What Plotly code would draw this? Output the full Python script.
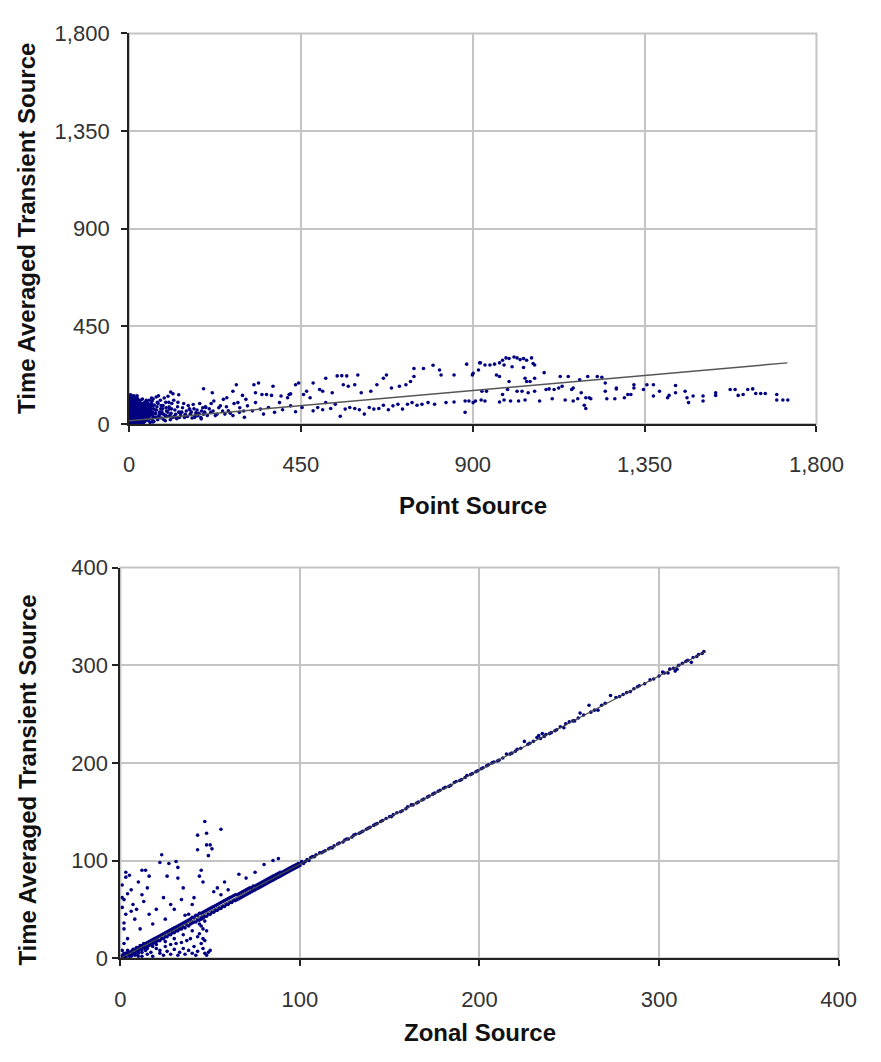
import plotly.graph_objects as go

# ---------------- data ----------------
point_ticks = [0, 450, 900, 1350, 1800]
zonal_ticks = [0, 100, 200, 300, 400]

# top panel: Point Source vs Time Averaged Transient Source
top_blob_pts = [
    (0, 5), (1, 12), (2, 25), (1, 40), (3, 55), (2, 70), (1, 85), (2, 100), (3, 115), (1, 128), (4, 135),
    (5, 8), (6, 20), (5, 35), (7, 48), (6, 62), (8, 78), (7, 92), (9, 105), (8, 118), (10, 3), (11, 15),
    (12, 30), (10, 44), (13, 58), (12, 72), (14, 88), (13, 100), (15, 112), (16, 6), (17, 18), (18, 26),
    (16, 38), (19, 52), (18, 65), (20, 80), (21, 95), (20, 108), (22, 10), (24, 22), (23, 34), (25, 46),
    (24, 60), (26, 74), (27, 88), (28, 100), (26, 2), (30, 14), (31, 28), (29, 40), (32, 56), (30, 68),
    (34, 82), (35, 95), (33, 8), (37, 20), (38, 33), (36, 50), (40, 64), (39, 76), (42, 90), (41, 12),
    (44, 25), (45, 40), (43, 55), (47, 70), (48, 85), (50, 18), (52, 30), (51, 48), (54, 62), (56, 78),
    (58, 95), (55, 8), (60, 22), (62, 40), (61, 55), (64, 70), (66, 88), (65, 12), (68, 30), (70, 48),
    (72, 65), (74, 100), (75, 20), (78, 38), (80, 55), (82, 110), (85, 28), (88, 70), (90, 45), (92, 120),
    (95, 15), (98, 60), (100, 35), (102, 128), (105, 80), (108, 20), (110, 50), (112, 95), (115, 140),
    (118, 35), (120, 65), (125, 25), (128, 100), (130, 55), (135, 40), (140, 75), (145, 30), (150, 60),
    (155, 85), (160, 45), (165, 28), (170, 70), (175, 52), (180, 38), (185, 95), (190, 60), (195, 45),
    (200, 80), (4, 2), (9, 60), (14, 45), (22, 118), (3, 98), (6, 110), (11, 122), (17, 85), (27, 60),
    (33, 70), (46, 100), (53, 110), (59, 120), (63, 115), (71, 125), (77, 130), (84, 85), (96, 100),
]
top_blob2_pts = [
    (0, 20), (0, 35), (0, 50), (0, 65), (0, 80), (0, 95), (0, 110), (0, 125), (1, 2), (2, 48), (3, 8),
    (3, 20), (3, 72), (4, 105), (5, 60), (6, 35), (7, 10), (7, 72), (8, 50), (9, 90), (10, 20), (10, 100),
    (12, 45), (13, 5), (13, 130), (15, 60), (17, 40), (18, 105), (20, 62), (22, 50), (23, 75), (24, 92),
    (25, 110), (27, 8), (28, 35), (30, 55), (32, 88), (34, 40), (35, 115), (36, 62), (38, 95), (40, 30),
    (42, 75), (44, 50), (45, 110), (48, 20), (48, 60), (50, 75), (52, 90), (54, 38), (57, 50), (60, 105),
    (63, 85), (2, 8), (4, 18), (3, 32), (5, 50), (4, 78), (6, 90), (5, 120), (7, 130), (8, 15), (9, 28),
    (10, 55), (11, 68), (12, 85), (11, 110), (9, 125), (14, 5), (15, 25), (14, 35), (16, 55), (15, 75),
    (17, 95), (16, 120), (19, 10), (20, 30), (21, 42), (19, 70), (22, 88), (23, 100), (21, 130),
    (25, 15), (26, 30), (27, 50), (28, 65), (26, 80), (29, 95), (30, 110), (32, 20), (33, 45), (34, 60),
    (31, 75), (35, 85), (37, 5), (38, 28), (39, 45), (40, 58), (38, 72), (41, 100), (43, 15), (44, 35),
    (46, 50), (45, 65), (47, 80), (49, 95), (50, 30), (53, 45), (55, 58), (57, 68), (59, 85), (62, 10),
    (63, 30), (67, 50), (69, 65), (73, 80), (76, 95), (79, 30), (81, 45), (83, 70), (86, 55), (89, 85),
    (91, 20), (94, 40), (97, 75), (101, 55), (104, 100), (107, 40), (111, 70), (114, 30), (117, 110),
    (122, 45), (127, 80), (132, 30), (138, 55), (143, 95), (147, 45), (153, 35), (158, 70), (163, 55),
    (168, 90), (173, 40), (178, 65), (183, 50), (188, 30), (193, 75), (198, 55), (205, 40), (210, 70),
    (215, 95), (220, 60), (230, 45), (235, 75), (245, 60), (255, 80), (265, 50), (275, 95), (290, 75),
    (300, 60),
]
top_upper_pts = [
    (109, 148), (130, 135), (195, 163), (218, 144), (247, 114), (272, 151), (281, 181), (297, 132),
    (327, 181), (331, 144), (339, 189), (377, 174), (373, 132), (419, 136), (436, 181), (444, 189),
    (482, 189), (499, 159), (515, 211), (545, 222), (557, 223), (570, 222), (599, 226), (561, 181),
    (574, 174), (591, 181), (608, 144), (633, 151), (649, 181), (666, 211), (674, 226), (687, 166),
    (708, 174), (725, 181), (737, 196), (746, 219), (746, 256), (771, 256), (796, 271), (813, 249),
    (817, 226), (851, 226), (884, 276), (901, 234), (918, 282),
    (932, 272), (945, 272), (957, 276), (970, 282), (978, 294), (987, 305), (995, 302), (1008, 309),
    (1016, 305), (1024, 297), (1033, 302), (1041, 294), (1054, 305), (1058, 279), (982, 272),
    (1003, 264), (1033, 261), (1062, 272), (915, 249), (920, 282), (899, 226), (962, 226), (970, 219),
    (1037, 211), (1062, 211), (1087, 237), (1041, 196), (1050, 196), (995, 196), (1129, 219),
    (1150, 219), (1180, 204), (1201, 219), (1226, 219), (1238, 216), (1247, 189), (1276, 166),
    (1322, 181), (1356, 181), (1373, 181), (1431, 178),
]
top_lower_pts = [
    (38, 39), (54, 46), (71, 31), (84, 54), (96, 39), (105, 69), (122, 31), (134, 54), (147, 39),
    (159, 66), (172, 31), (180, 46), (189, 24), (201, 76), (214, 54), (226, 39), (239, 84), (251, 46),
    (260, 61), (272, 39), (289, 54), (302, 31), (310, 84), (323, 61), (331, 99), (344, 69), (352, 46),
    (365, 76), (381, 54), (394, 99), (402, 66), (415, 121), (423, 84), (436, 57), (453, 76), (465, 151),
    (474, 121), (482, 61), (494, 76), (507, 66), (515, 99), (528, 72), (540, 91), (553, 36), (566, 69),
    (578, 76), (591, 72), (603, 66), (616, 46), (629, 76), (641, 69), (654, 72), (666, 87), (679, 66),
    (691, 84), (704, 91), (716, 69), (729, 91), (741, 99), (754, 87), (767, 91), (783, 99), (800, 91),
    (830, 99), (851, 102), (880, 106), (880, 54), (901, 99), (922, 111),
    (222, 106), (256, 121), (285, 99), (306, 114), (348, 136), (360, 136), (398, 129), (423, 139),
    (457, 136), (507, 151), (532, 144),
    (924, 151), (936, 151), (978, 136), (991, 159), (1016, 151), (1029, 151), (1045, 144), (1062, 151),
    (1092, 159), (1100, 162), (1113, 159), (1125, 166), (1134, 174), (1159, 159), (1163, 166),
    (1184, 144), (1196, 121), (1205, 121), (1247, 151), (1276, 162), (1306, 136), (1322, 166),
    (1347, 159), (1373, 129), (1389, 151), (1410, 121), (1414, 132), (1431, 144), (1456, 151),
    (1461, 121), (1465, 99), (1477, 129), (1503, 129), (1503, 106), (1536, 144), (1536, 132),
    (1574, 159), (1587, 159), (1595, 132), (1608, 136), (1620, 159), (1633, 162), (1641, 141),
    (1654, 141), (1666, 141), (1696, 136), (1696, 111), (1712, 111), (1725, 111),
    (890, 106), (907, 106), (932, 106), (970, 102), (982, 111), (999, 106), (1020, 106), (1037, 111),
    (1075, 106), (1108, 117), (1142, 111), (1163, 106), (1175, 117), (1192, 87), (1196, 72),
    (1209, 117), (1251, 117), (1272, 117), (1297, 121), (1314, 136),
]
top_trend_x = [0, 1724]
top_trend_y = [15, 282]

# bottom panel: Zonal Source vs Time Averaged Transient Source
bot_band_pts = [
    (1, 1), (2, 3), (3, 2), (4, 5), (5, 3), (6, 7), (7, 5), (8, 9), (9, 7), (10, 11), (11, 9), (12, 13),
    (13, 11), (14, 15), (15, 12), (16, 17), (17, 14), (18, 19), (19, 16), (20, 21), (21, 18), (22, 23),
    (23, 20), (24, 25), (25, 22), (26, 27), (27, 24), (28, 29), (29, 26), (30, 31), (31, 28), (32, 33),
    (33, 30), (34, 35), (35, 32), (36, 37), (37, 34), (38, 39), (39, 35), (40, 42), (41, 37), (42, 44),
    (43, 39), (44, 46), (45, 41), (46, 47), (47, 43), (48, 49), (49, 45), (50, 51), (51, 47), (52, 53),
    (53, 49), (54, 55), (55, 51), (56, 57), (57, 53), (58, 59), (59, 55), (60, 61), (61, 57), (62, 63),
    (63, 59), (64, 65), (65, 60), (66, 66), (67, 62), (68, 68), (69, 64), (70, 70), (71, 66), (72, 72),
    (73, 68), (74, 74), (75, 70), (76, 75), (77, 72), (78, 77), (79, 74), (80, 79), (81, 76), (82, 81),
    (83, 78), (84, 83), (85, 80), (86, 85), (87, 82), (88, 87), (89, 84), (90, 88), (91, 86), (92, 90),
    (93, 88), (94, 92), (95, 90), (96, 94), (97, 92), (98, 96), (99, 94), (100, 97),
    (103, 99), (106, 103), (108, 104), (111, 108), (113, 109), (116, 112), (118, 113), (121, 117),
    (124, 119), (126, 122), (129, 124), (131, 127), (134, 129), (137, 132), (139, 134), (142, 137),
    (145, 140), (148, 143), (151, 145), (154, 149), (157, 151), (160, 155), (163, 157), (166, 160),
    (169, 163), (172, 166), (175, 169), (178, 172), (181, 175), (184, 177), (187, 181), (190, 183),
    (193, 187), (196, 189), (199, 192), (202, 195), (205, 198), (208, 201), (211, 203), (215, 209),
    (218, 210), (221, 214), (225, 222), (228, 220), (232, 226), (233, 228), (235, 230), (236, 227),
    (240, 231), (243, 234), (247, 236), (250, 242), (253, 243), (256, 251), (261, 259), (264, 254),
    (266, 254), (268, 259), (273, 269), (276, 267), (280, 270), (284, 273), (286, 276), (289, 279),
    (292, 281), (297, 286), (300, 289), (302, 293), (305, 292), (308, 297), (309, 294), (310, 296),
    (313, 302), (316, 305), (318, 303), (321, 309), (324, 312), (325, 314),
]
bot_band2_pts = [
    (2, 0), (3, 5), (5, 6), (6, 3), (7, 9), (8, 5), (9, 11), (10, 7), (11, 13), (12, 9), (13, 15),
    (14, 11), (15, 16), (16, 13), (17, 18), (18, 15), (19, 20), (20, 17), (21, 22), (22, 18), (23, 24),
    (24, 20), (25, 26), (26, 22), (27, 28), (28, 24), (29, 30), (30, 26), (31, 32), (32, 28), (33, 34),
    (34, 30), (35, 36), (36, 31), (37, 38), (38, 33), (39, 40), (40, 36), (41, 42), (42, 37), (43, 44),
    (44, 39), (45, 46), (46, 41), (47, 48), (48, 43), (49, 50), (50, 45), (51, 52), (52, 47), (53, 54),
    (54, 49), (55, 56), (56, 51), (57, 58), (58, 53), (59, 60), (60, 55), (61, 62), (62, 57), (63, 64),
    (64, 59), (65, 65), (66, 61), (67, 67), (68, 63), (69, 69), (70, 65), (71, 71), (72, 67), (73, 72),
    (74, 69), (75, 74), (76, 71), (77, 76), (78, 73), (79, 78), (80, 75), (81, 80), (82, 77), (83, 82),
    (84, 79), (85, 84), (86, 81), (87, 86), (88, 83), (89, 88), (90, 85), (91, 89), (92, 87), (93, 91),
    (94, 89), (95, 93), (96, 91), (97, 95), (98, 93), (99, 97), (100, 95), (101, 99), (102, 97),
    (104, 101), (105, 100),
    (107, 104), (109, 106), (112, 108), (114, 110), (117, 113), (119, 115), (122, 118), (125, 121),
    (127, 122), (130, 126), (133, 128), (135, 130), (138, 133), (141, 136), (143, 138), (146, 141),
    (150, 145), (152, 147), (156, 150), (159, 153), (162, 157), (165, 159), (168, 162), (171, 165),
    (174, 168), (177, 171), (180, 174), (183, 176), (186, 180), (189, 182), (192, 185), (195, 188),
    (198, 191), (201, 194), (204, 197), (207, 200), (210, 202), (213, 205), (217, 209), (220, 212),
    (223, 215), (227, 219), (230, 222), (234, 225), (237, 229), (239, 230), (242, 233), (245, 237),
    (248, 240), (252, 243), (255, 246), (258, 249), (262, 252), (270, 261), (278, 268), (282, 272),
    (288, 278), (295, 285), (303, 292), (306, 296), (311, 300), (315, 304), (319, 308), (322, 311),
]
bot_above_pts = [
    (1, 75), (2, 60), (3, 45), (2, 30), (4, 20), (5, 85), (6, 70), (7, 55), (8, 40), (3, 88), (10, 78),
    (12, 65), (9, 50), (11, 30), (14, 90), (15, 72), (13, 58), (16, 45), (18, 35), (23, 106), (22, 98),
    (24, 62), (27, 97), (28, 55), (31, 99), (32, 82), (34, 60), (35, 72), (38, 45), (40, 55), (43, 111),
    (43, 126), (45, 90), (46, 78), (47, 140), (48, 128), (48, 116), (49, 105), (50, 116), (51, 112),
    (56, 132), (32, 93), (16, 84), (3, 83), (12, 90), (26, 84), (44, 84), (66, 86), (60, 70), (56, 65),
    (58, 78), (52, 68), (70, 82), (75, 88), (80, 96), (85, 100), (88, 102), (1, 62), (1, 52), (2, 15),
    (1, 8), (2, 36), (4, 66), (6, 48), (20, 50), (25, 40), (30, 50), (36, 44), (41, 62), (54, 72),
]
bot_below_pts = [
    (5, 2), (8, 3), (10, 5), (12, 2), (14, 8), (15, 4), (17, 6), (18, 2), (20, 10), (22, 5), (24, 3),
    (25, 12), (26, 7), (28, 4), (30, 9), (31, 15), (32, 3), (33, 6), (35, 10), (36, 4), (37, 18),
    (38, 8), (40, 5), (41, 12), (42, 3), (43, 7), (44, 25), (44, 35), (45, 15), (45, 40), (46, 20),
    (46, 30), (46, 10), (47, 5), (47, 38), (48, 3), (48, 28), (49, 6), (50, 8), (10, 2), (15, 10),
    (20, 14), (25, 17), (30, 20), (35, 24), (40, 28), (12, 6), (18, 12), (22, 8), (28, 14), (34, 16),
    (39, 20), (43, 22), (45, 33), (47, 18), (46, 42), (3, 1), (6, 2), (9, 4), (2, 5), (4, 8), (1, 3),
]
bot_trend_x = [0, 326]
bot_trend_y = [0, 314]

# ---------------- figure ----------------
W, H = 881, 1062
NAVY = "#000080"
GRID = "#c4c4c4"
AXIS = "#222222"
TICKFONT = dict(family="Liberation Sans, Arial, sans-serif", size=22, color="#333333")
TITLEFONT = dict(family="Liberation Sans, Arial, sans-serif", size=24, color="#111111")


def xs(*groups):
    return [p[0] for g in groups for p in g]


def ys(*groups):
    return [p[1] for g in groups for p in g]


top_groups = (top_blob_pts, top_blob2_pts, top_upper_pts, top_lower_pts)
bot_groups = (bot_band_pts, bot_band2_pts, bot_above_pts, bot_below_pts)

fig = go.Figure()
fig.add_trace(go.Scatter(x=xs(*top_groups), y=ys(*top_groups), mode="markers",
                         marker=dict(color=NAVY, size=3.6), xaxis="x", yaxis="y", hoverinfo="x+y"))
fig.add_trace(go.Scatter(x=top_trend_x, y=top_trend_y, mode="lines",
                         line=dict(color="#555555", width=1.5), xaxis="x", yaxis="y"))
fig.add_trace(go.Scatter(x=xs(*bot_groups), y=ys(*bot_groups), mode="markers",
                         marker=dict(color=NAVY, size=3.6), xaxis="x2", yaxis="y2", hoverinfo="x+y"))
fig.add_trace(go.Scatter(x=bot_trend_x, y=bot_trend_y, mode="lines",
                         line=dict(color="#444444", width=1.2), xaxis="x2", yaxis="y2"))

common = dict(showgrid=True, gridcolor=GRID, gridwidth=1.5, zeroline=False,
              showline=True, linecolor=AXIS, linewidth=2, ticks="outside", ticklen=6,
              tickcolor=AXIS, tickwidth=2, tickfont=TICKFONT, tickformat=",d")

fig.update_layout(
    width=W, height=H, margin=dict(l=0, r=0, t=0, b=0),
    paper_bgcolor="white", plot_bgcolor="white", showlegend=False,
    xaxis=dict(common, domain=[128 / W, 843 / W], range=[0, 1800], tickvals=point_ticks,
               anchor="y", ticklabelstandoff=14),
    yaxis=dict(common, domain=[1 - 422 / H, 1 - 22 / H], range=[0, 1800], tickvals=point_ticks,
               anchor="x", ticklabelstandoff=7),
    xaxis2=dict(common, domain=[119 / W, 866 / W], range=[0, 400], tickvals=zonal_ticks,
                anchor="y2", ticklabelstandoff=14),
    yaxis2=dict(common, domain=[1 - 969 / H, 1 - 569 / H], range=[0, 400], tickvals=zonal_ticks,
                anchor="x2", ticklabelstandoff=0),
)

# plot-area border (light gray top / right edges)
for xr, yr in (("x domain", "y domain"), ("x2 domain", "y2 domain")):
    fig.add_shape(type="rect", xref=xr, yref=yr, x0=0, x1=1, y0=0, y1=1,
                  line=dict(color=GRID, width=2), layer="below")

ann = [
    dict(text="<b>Point Source</b>", x=486 / W, y=1 - 505 / H, textangle=0),
    dict(text="<b>Zonal Source</b>", x=493 / W, y=1 - 1045 / H, textangle=0),
    dict(text="<b>Time Averaged Transient Source</b>", x=22 / W, y=1 - 222 / H, textangle=-90),
    dict(text="<b>Time Averaged Transient Source</b>", x=22 / W, y=1 - 787 / H, textangle=-90),
]
for a in ann:
    fig.add_annotation(xref="paper", yref="paper", showarrow=False, font=TITLEFONT,
                       xanchor="center", yanchor="middle", **a)

fig.write_html("out.html", config={"displayModeBar": False},
               post_script="document.body.style.margin='0';")
